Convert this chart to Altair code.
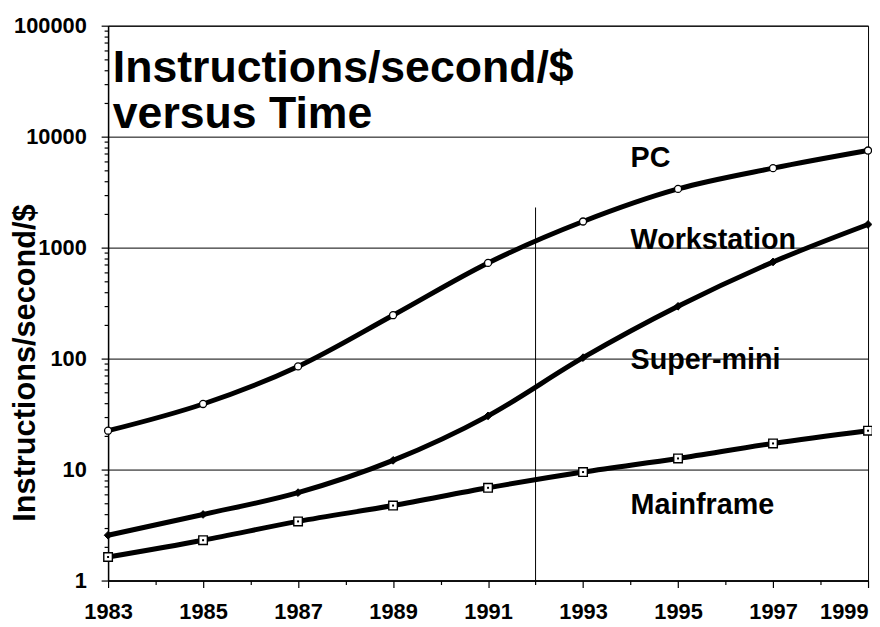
import altair as alt
import pandas as pd

# ---- data ----
years = [1983, 1985, 1987, 1989, 1991, 1993, 1995, 1997, 1999]
pc = [22.4, 39, 85, 246, 728, 1720, 3380, 5200, 7500]
workstation = [2.56, 3.94, 6.2, 12.1, 30.5, 102, 296, 743, 1618]
mainframe = [1.63, 2.31, 3.41, 4.74, 6.85, 9.5, 12.6, 17.2, 22.4]

label_text = ["PC", "Workstation", "Super-mini", "Mainframe"]
label_year = [1994, 1994, 1994, 1994]
label_value = [6440, 1166, 96, 4.74]

title_text = ["Instructions/second/$\nversus Time"]
title_year = [1983.1]
title_value = [31000]

divider_year = [1992]
divider_bottom = [1]
divider_top = [2300]

x_ticks = list(range(1983, 2000))
y_ticks = [m * 10 ** e for e in range(0, 5) for m in range(1, 10)] + [100000]

# ---- tables ----
rows = []
for name, vals in [("PC", pc), ("Workstation", workstation), ("Mainframe", mainframe)]:
    for yr, v in zip(years, vals):
        rows.append({"year": yr, "value": v, "series": name})
df = pd.DataFrame(rows)
labels_df = pd.DataFrame({"year": label_year, "value": label_value, "text": label_text})
title_df = pd.DataFrame({"year": title_year, "value": title_value, "text": title_text})
divider_df = pd.DataFrame({"year": divider_year, "value": divider_bottom, "value2": divider_top})

FONT = "Liberation Sans"
dec_test = "indexof([1,10,100,1000,10000,100000], datum.value) >= 0"

x_axis = alt.Axis(
    values=x_ticks, format="d", title=None, grid=False,
    labelExpr="datum.value % 2 == 1 ? datum.label : ''",
    tickSize={"condition": {"test": "datum.value % 2 == 1", "value": 7}, "value": 4},
    labelAlign={"condition": {"test": "datum.value == 1999", "value": "right"}, "value": "center"},
    labelFlush=False, labelOverlap=False,
    labelFont=FONT, labelFontSize=22, labelFontWeight="bold", labelColor="black",
    labelPadding=14, domainColor="black", domainWidth=1.5, tickColor="black", tickWidth=1.2,
)
y_axis = alt.Axis(
    values=y_ticks, format="d",
    labelExpr="indexof(['1','10','100','1000','10000','100000'], datum.label) >= 0 ? datum.label : ''",
    tickSize={"condition": {"test": dec_test, "value": 7}, "value": 4},
    grid=True, gridColor="black", gridWidth=1,
    gridOpacity={"condition": {"test": dec_test, "value": 1}, "value": 0},
    labelOverlap=False, labelFont=FONT, labelFontSize=22, labelFontWeight="bold",
    labelColor="black", labelPadding=15, labelBaseline="middle",
    domainColor="black", domainWidth=1.5, tickColor="black", tickWidth=1.2,
    title="Instructions/second/$", titleFont=FONT, titleFontSize=31, titleFontWeight="bold",
    titleColor="black", titleX=-74, titleY=340, titleAlign="center", titleBaseline="alphabetic",
)

xs = alt.Scale(domain=[1983, 1999], nice=False, zero=False)
ys = alt.Scale(type="log", domain=[1, 100000], nice=False)

base = alt.Chart(df)
lines = base.mark_line(color="black", strokeWidth=5, interpolate="monotone").encode(
    x=alt.X("year:Q", scale=xs, axis=x_axis),
    y=alt.Y("value:Q", scale=ys, axis=y_axis),
    detail="series:N",
)
enc = dict(x=alt.X("year:Q", scale=xs), y=alt.Y("value:Q", scale=ys))

pc_pts = base.transform_filter("datum.series == 'PC'").mark_point(
    shape="circle", size=50, filled=True, fill="white", stroke="black", strokeWidth=1.3, opacity=1
).encode(**enc)
ws_pts = base.transform_filter("datum.series == 'Workstation'").mark_point(
    shape="diamond", size=60, filled=True, fill="black", stroke="black", strokeWidth=1, opacity=1
).encode(**enc)
mf_pts = base.transform_filter("datum.series == 'Mainframe'").mark_point(
    shape="square", size=75, filled=True, fill="white", stroke="black", strokeWidth=1.4, opacity=1
).encode(**enc)
mf_dots = base.transform_filter("datum.series == 'Mainframe'").mark_point(
    shape="square", size=4, filled=True, fill="black", opacity=1
).encode(**enc)

divider = alt.Chart(divider_df).mark_rule(color="black", strokeWidth=1).encode(
    x=alt.X("year:Q", scale=xs), y=alt.Y("value:Q", scale=ys), y2="value2:Q"
)

labels = alt.Chart(labels_df).mark_text(
    align="left", baseline="middle", font=FONT, fontSize=29, fontWeight="bold", color="black"
).encode(x=alt.X("year:Q", scale=xs), y=alt.Y("value:Q", scale=ys), text="text:N")

title = alt.Chart(title_df).mark_text(
    align="left", baseline="alphabetic", font=FONT, fontSize=45, fontWeight="bold",
    color="black", lineBreak="\n", lineHeight=46
).encode(x=alt.X("year:Q", scale=xs), y=alt.Y("value:Q", scale=ys), text="text:N")

chart = alt.layer(divider, lines, pc_pts, ws_pts, mf_pts, mf_dots, labels, title).properties(
    width=767, height=560,
    autosize=alt.AutoSizeParams(type="none"),
    padding={"left": 101, "top": 15, "right": 4, "bottom": 40},
    background="white",
).configure_view(stroke="black", strokeWidth=1)

chart.save("out.html", embed_options={"renderer": "svg", "actions": False})
